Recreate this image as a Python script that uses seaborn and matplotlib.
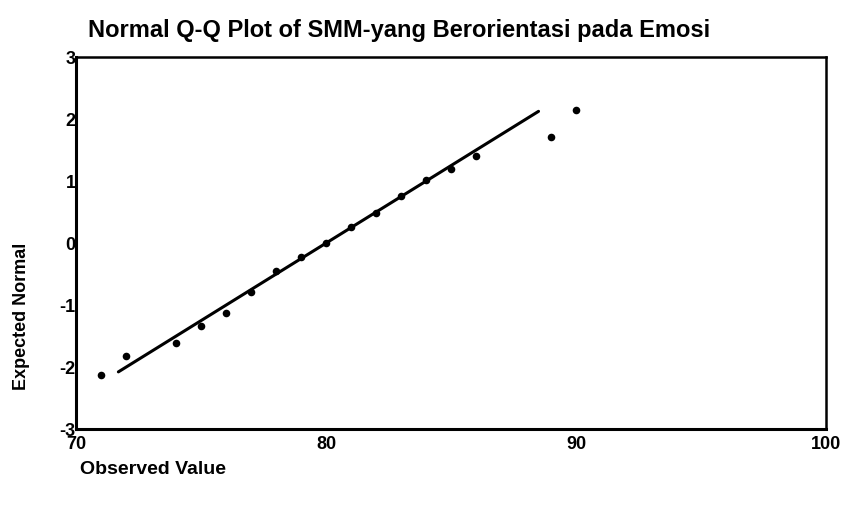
import matplotlib
matplotlib.use("Agg")
import matplotlib.pyplot as plt
import numpy as np
import pandas as pd
import seaborn as sns

observed = [71, 72, 74, 75, 76, 77, 78, 79, 80, 81, 82, 83, 84, 85, 86, 89, 90]
expected = [-2.12, -1.82, -1.61, -1.33, -1.12, -0.78, -0.45, -0.23, 0.0,
            0.26, 0.48, 0.76, 1.02, 1.19, 1.40, 1.71, 2.14]

# reference line of the normal fit (mean 80, sd 4)
line_x = [71.7, 88.5]
line_mean = 80.0
line_sd = 4.0

xticks = [70, 80, 90, 100]
yticks = [-3, -2, -1, 0, 1, 2, 3]

pts = pd.DataFrame({"observed": observed, "expected": expected})
ref = pd.DataFrame({"x": line_x})
ref["y"] = (ref["x"] - line_mean) / line_sd

sns.set_theme(style="white")
plt.rcParams["font.family"] = ["Liberation Sans", "DejaVu Sans"]
plt.rcParams["text.color"] = "black"

fig = plt.figure(figsize=(8.43, 5.05), dpi=100)
fig.patch.set_facecolor("white")
ax = fig.add_axes([0.090, 0.150, 0.890, 0.737])

sns.lineplot(data=ref, x="x", y="y", color="black", linewidth=2.2, ax=ax)
sns.scatterplot(data=pts, x="observed", y="expected", color="black",
                s=30, marker="o", edgecolor="black", linewidth=0, ax=ax)

ax.set_xlim(70, 100)
ax.set_ylim(-3, 3)
ax.set_xticks(xticks)
ax.set_yticks(yticks)
ax.set_xticklabels([str(t) for t in xticks], fontsize=13, fontweight="bold")
ax.set_yticklabels([str(t) for t in yticks], fontsize=13, fontweight="bold")
ax.tick_params(axis="y", direction="in", length=4, width=1.5, pad=0, colors="black")
ax.tick_params(axis="x", direction="in", length=4, width=1.5, pad=5, colors="black")
ax.set_xlabel("")
ax.set_ylabel("")

for side in ["left", "bottom"]:
    ax.spines[side].set_linewidth(2.2)
    ax.spines[side].set_color("black")
for side in ["top", "right"]:
    ax.spines[side].set_linewidth(1.8)
    ax.spines[side].set_color("black")

fig.text(88 / 843, 1 - 31 / 505, "Normal Q-Q Plot of SMM-yang Berorientasi pada Emosi",
         fontsize=17, fontweight="bold", ha="left", va="center", color="black")
fig.text(80 / 843, 1 - 470 / 505, "Observed Value", fontsize=14, fontweight="bold",
         ha="left", va="center", color="black")
fig.text(22 / 843, 1 - 316 / 505, "Expected Normal", fontsize=13, fontweight="bold",
         rotation=90, ha="center", va="center", color="black")

fig.savefig("out.png", dpi=100, facecolor="white")
